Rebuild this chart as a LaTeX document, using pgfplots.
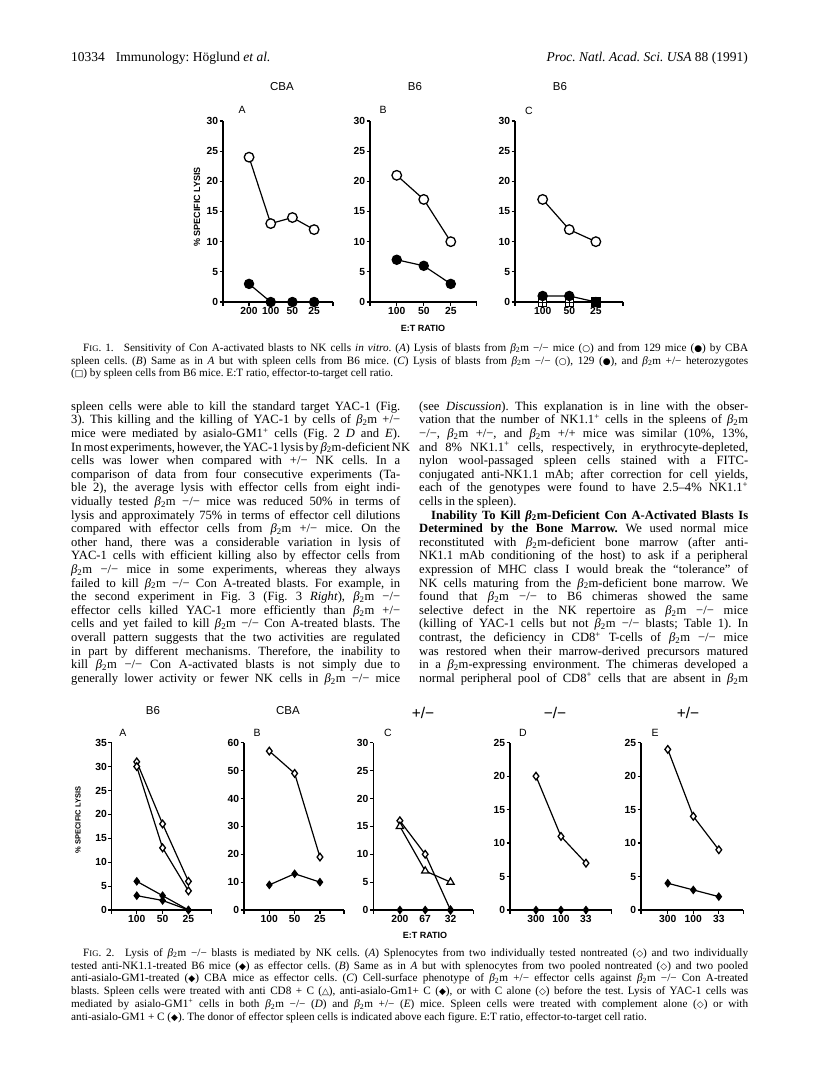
\documentclass[border=0pt]{standalone}
\usepackage{fontspec}
\setmainfont{Liberation Serif}
\setsansfont{Liberation Sans}
\newfontfamily\sym[Scale=0.8]{DejaVu Sans}
\usepackage{pgfplots}
\pgfplotsset{compat=1.18}
\frenchspacing

\newcommand{\btwo}{\textit{β}\textsubscript{2}m}
\newcommand{\bodyf}{\fontsize{12.6}{13.6}\selectfont\frenchspacing}
\newcommand{\capf}{\fontsize{11.2}{12.5}\selectfont\frenchspacing}
\newcommand{\smc}[1]{{\fontsize{8.6}{9}\selectfont #1}}
\def\bt{408}\def\bs{13.6}
\def\ct{349}\def\cs{12.8}
\def\dt{954}
\newcommand{\TL}[3]{\node[anchor=mid west,inner sep=0pt,font=\bodyf] at ({#1pt},{-\bt pt-\bs pt*#2}) {\makebox[329pt][s]{#3}};}
\newcommand{\TF}[3]{\node[anchor=mid west,inner sep=0pt,font=\bodyf] at ({#1pt},{-\bt pt-\bs pt*#2}) {#3};}
\newcommand{\CL}[3]{\node[anchor=mid west,inner sep=0pt,font=\capf] at ({71pt},{-#1pt-\cs pt*#2}) {\makebox[677pt][s]{#3}};}
\newcommand{\CF}[3]{\node[anchor=mid west,inner sep=0pt,font=\capf] at ({71pt},{-#1pt-\cs pt*#2}) {#3};}

\pgfdeclareplotmark{sqplus}{%
  \pgfpathrectangle{\pgfpoint{-\pgfplotmarksize}{-\pgfplotmarksize}}{\pgfpoint{2\pgfplotmarksize}{2\pgfplotmarksize}}%
  \pgfusepathqfillstroke
  \pgfpathmoveto{\pgfpoint{-\pgfplotmarksize}{0pt}}\pgfpathlineto{\pgfpoint{\pgfplotmarksize}{0pt}}%
  \pgfpathmoveto{\pgfpoint{0pt}{-\pgfplotmarksize}}\pgfpathlineto{\pgfpoint{0pt}{\pgfplotmarksize}}%
  \pgfusepathqstroke}

\pgfplotsset{
  pnl/.style={
    scale only axis, clip=false, anchor=south west,
    axis x line*=bottom, axis y line*=left,
    axis line style={line width=1.3pt,-},
    every tick/.style={black, line width=1.2pt},
    tick align=outside, major tick length=3.5pt,
    yticklabel style={font=\sffamily\bfseries\fontsize{10.3}{11}\selectfont, inner sep=1.2pt},
    xticklabel style={font=\sffamily\bfseries\fontsize{10.3}{11}\selectfont, inner sep=1.2pt},
    /pgf/number format/assume math mode=true,
    ymin=0, xtick={0,1,2,3},
    extra x tick labels={,},
    every axis plot/.append style={line width=1.2pt, black},
  },
  oc/.style={mark=*, mark size=4.8pt, mark options={fill=white, line width=1.3pt}},
  fc/.style={mark=*, mark size=4.6pt, mark options={fill=black}},
  od/.style={mark=diamond*, mark size=3.8pt, mark options={fill=white, line width=1.3pt}},
  fd/.style={mark=diamond*, mark size=3.5pt, mark options={fill=black}},
  ot/.style={mark=triangle*, mark size=4.2pt, mark options={fill=white, line width=1.2pt}},
}

\begin{document}
\begin{tikzpicture}
\path[use as bounding box] (0,0) rectangle (816pt,-1079pt);
\fill[white] (0,0) rectangle (816pt,-1079pt);

% header
\node[anchor=mid west,inner sep=0pt,font=\fontsize{13.5}{15}\selectfont] at (71pt,-59pt) {10334\hspace{11pt}Immunology: Höglund \textit{et al.}};
\node[anchor=mid east,inner sep=0pt,font=\fontsize{13.5}{15}\selectfont] at (748pt,-59pt) {\textit{Proc. Natl. Acad. Sci. USA} 88 (1991)};

% ---------- FIG 1 ----------
\begin{axis}[pnl, at={(223pt,-302pt)}, width=110pt, height=181pt,
  xmin=-1.2, xmax=3.87, ymax=30, ytick={0,5,...,30},
  xticklabels={200,100,50,25}, extra x ticks={-1.2,3.87}]
\addplot[oc] coordinates {(0,24)(1,13)(2,14)(3,12)};
\addplot[fc] coordinates {(0,3)(1,0)(2,0)(3,0)};
\end{axis}
\begin{axis}[pnl, at={(370pt,-302pt)}, width=106.7pt, height=181pt,
  xmin=-0.99, xmax=2.96, ymax=30, ytick={0,5,...,30}, xtick={0,1,2},
  xticklabels={100,50,25}, extra x ticks={-0.99,2.96}]
\addplot[oc] coordinates {(0,21)(1,17)(2,10)};
\addplot[fc] coordinates {(0,7)(1,6)(2,3)};
\end{axis}
\begin{axis}[pnl, at={(515pt,-302pt)}, width=108pt, height=181pt,
  xmin=-1.04, xmax=3.02, ymax=30, ytick={0,5,...,30}, xtick={0,1,2},
  xticklabels={100,50,25}, extra x ticks={-1.04,3.02}]
\addplot[oc] coordinates {(0,17)(1,12)(2,10)};
\addplot[mark=sqplus, mark size=4pt, mark options={fill=white, line width=1pt}] coordinates {(0,0)(1,0)(2,0)};
\addplot[only marks, mark=square*, mark size=4.2pt, mark options={fill=black}] coordinates {(2,0)};
\addplot[fc] coordinates {(0,1)(1,1)(2,0)};
\end{axis}

\node[font=\sffamily\fontsize{11.5}{12}\selectfont] at (282pt,-87pt) {CBA};
\node[font=\sffamily\fontsize{11.5}{12}\selectfont] at (415pt,-87pt) {B6};
\node[font=\sffamily\fontsize{11.5}{12}\selectfont] at (560pt,-87pt) {B6};
\node[font=\sffamily\fontsize{10.5}{12}\selectfont] at (242pt,-110pt) {A};
\node[font=\sffamily\fontsize{10.5}{12}\selectfont] at (383pt,-110pt) {B};
\node[font=\sffamily\fontsize{10.5}{12}\selectfont] at (529pt,-111pt) {C};
\node[rotate=90,font=\sffamily\bfseries\fontsize{9}{10}\selectfont] at (197pt,-207pt) {\% SPECIFIC LYSIS};
\node[font=\sffamily\bfseries\fontsize{9}{10}\selectfont] at (423pt,-328pt) {E:T RATIO};

% caption fig 1
\CL{\ct}{0}{\hspace*{12pt}F\smc{IG}. 1.\hspace{6pt} Sensitivity of Con A-activated blasts to NK cells \textit{in vitro}. (\textit{A}) Lysis of blasts from \btwo{} −/− mice ({\sym ○}) and from 129 mice ({\sym ●}) by CBA}
\CL{\ct}{1}{spleen cells. (\textit{B}) Same as in \textit{A} but with spleen cells from B6 mice. (\textit{C}) Lysis of blasts from \btwo{} −/− ({\sym ○}), 129 ({\sym ●}), and \btwo{} +/− heterozygotes}
\CF{\ct}{2}{({\sym □}) by spleen cells from B6 mice. E:T ratio, effector-to-target cell ratio.}

% body left
\TL{71}{0}{spleen cells were able to kill the standard target YAC-1 (Fig.}
\TL{71}{1}{3). This killing and the killing of YAC-1 by cells of \btwo{} +/−}
\TL{71}{2}{mice were mediated by asialo-GM1\textsuperscript{+} cells (Fig. 2 \textit{D} and \textit{E}).}
\TL{71}{3}{In most experiments, however, the YAC-1 lysis by \btwo-deficient NK}
\TL{71}{4}{cells was lower when compared with +/− NK cells. In a}
\TL{71}{5}{comparison of data from four consecutive experiments (Ta-}
\TL{71}{6}{ble 2), the average lysis with effector cells from eight indi-}
\TL{71}{7}{vidually tested \btwo{} −/− mice was reduced 50\% in terms of}
\TL{71}{8}{lysis and approximately 75\% in terms of effector cell dilutions}
\TL{71}{9}{compared with effector cells from \btwo{} +/− mice. On the}
\TL{71}{10}{other hand, there was a considerable variation in lysis of}
\TL{71}{11}{YAC-1 cells with efficient killing also by effector cells from}
\TL{71}{12}{\btwo{} −/− mice in some experiments, whereas they always}
\TL{71}{13}{failed to kill \btwo{} −/− Con A-treated blasts. For example, in}
\TL{71}{14}{the second experiment in Fig. 3 (Fig. 3 \textit{Right}), \btwo{} −/−}
\TL{71}{15}{effector cells killed YAC-1 more efficiently than \btwo{} +/−}
\TL{71}{16}{cells and yet failed to kill \btwo{} −/− Con A-treated blasts. The}
\TL{71}{17}{overall pattern suggests that the two activities are regulated}
\TL{71}{18}{in part by different mechanisms. Therefore, the inability to}
\TL{71}{19}{kill \btwo{} −/− Con A-activated blasts is not simply due to}
\TL{71}{20}{generally lower activity or fewer NK cells in \btwo{} −/− mice}

% body right
\TL{419}{0}{(see \textit{Discussion}). This explanation is in line with the obser-}
\TL{419}{1}{vation that the number of NK1.1\textsuperscript{+} cells in the spleens of \btwo}
\TL{419}{2}{−/−, \btwo{} +/−, and \btwo{} +/+ mice was similar (10\%, 13\%,}
\TL{419}{3}{and 8\% NK1.1\textsuperscript{+} cells, respectively, in erythrocyte-depleted,}
\TL{419}{4}{nylon wool-passaged spleen cells stained with a FITC-}
\TL{419}{5}{conjugated anti-NK1.1 mAb; after correction for cell yields,}
\TL{419}{6}{each of the genotypes were found to have 2.5–4\% NK1.1\textsuperscript{+}}
\TF{419}{7}{cells in the spleen).}
\TL{419}{8}{\hspace*{12pt}\textbf{Inability To Kill \btwo-Deficient Con A-Activated Blasts Is}}
\TL{419}{9}{\textbf{Determined by the Bone Marrow.} We used normal mice}
\TL{419}{10}{reconstituted with \btwo-deficient bone marrow (after anti-}
\TL{419}{11}{NK1.1 mAb conditioning of the host) to ask if a peripheral}
\TL{419}{12}{expression of MHC class I would break the ``tolerance'' of}
\TL{419}{13}{NK cells maturing from the \btwo-deficient bone marrow. We}
\TL{419}{14}{found that \btwo{} −/− to B6 chimeras showed the same}
\TL{419}{15}{selective defect in the NK repertoire as \btwo{} −/− mice}
\TL{419}{16}{(killing of YAC-1 cells but not \btwo{} −/− blasts; Table 1). In}
\TL{419}{17}{contrast, the deficiency in CD8\textsuperscript{+} T-cells of \btwo{} −/− mice}
\TL{419}{18}{was restored when their marrow-derived precursors matured}
\TL{419}{19}{in a \btwo-expressing environment. The chimeras developed a}
\TL{419}{20}{normal peripheral pool of CD8\textsuperscript{+} cells that are absent in \btwo}

% ---------- FIG 2 ----------
\begin{axis}[pnl, at={(111.7pt,-910pt)}, width=100pt, height=167.3pt,
  xmin=-0.97, xmax=2.9, ymax=35, ytick={0,5,...,35}, xtick={0,1,2},
  xticklabels={100,50,25}, extra x ticks={-0.97,2.9}]
\addplot[od] coordinates {(0,31)(1,18)(2,6)};
\addplot[od] coordinates {(0,30)(1,13)(2,4)};
\addplot[fd] coordinates {(0,6)(1,3)(2,0)};
\addplot[fd] coordinates {(0,3)(1,2)(2,0)};
\end{axis}
\begin{axis}[pnl, at={(244pt,-910pt)}, width=100pt, height=167.3pt,
  xmin=-1.0, xmax=2.95, ymax=60, ytick={0,10,...,60}, xtick={0,1,2},
  xticklabels={100,50,25}, extra x ticks={-1.0,2.95}]
\addplot[od] coordinates {(0,57)(1,49)(2,19)};
\addplot[fd] coordinates {(0,9)(1,13)(2,10)};
\end{axis}
\begin{axis}[pnl, at={(373.3pt,-910pt)}, width=100pt, height=167.3pt,
  xmin=-1.05, xmax=2.9, ymax=30, ytick={0,5,...,30}, xtick={0,1,2},
  xticklabels={200,67,32}, extra x ticks={-1.05,2.9}]
\addplot[od] coordinates {(0,16)(1,10)(2,0)};
\addplot[ot] coordinates {(0,15)(1,7)(2,5)};
\addplot[fd] coordinates {(0,0)(1,0)(2,0)};
\end{axis}
\begin{axis}[pnl, at={(510pt,-910pt)}, width=101.7pt, height=167.3pt,
  xmin=-1.04, xmax=3.03, ymax=25, ytick={0,5,...,25}, xtick={0,1,2},
  xticklabels={300,100,33}, extra x ticks={-1.04,3.03}]
\addplot[od] coordinates {(0,20)(1,11)(2,7)};
\addplot[fd] coordinates {(0,0)(1,0)(2,0)};
\end{axis}
\begin{axis}[pnl, at={(641pt,-910pt)}, width=102.3pt, height=167.3pt,
  xmin=-1.05, xmax=2.96, ymax=25, ytick={0,5,...,25}, xtick={0,1,2},
  xticklabels={300,100,33}, extra x ticks={-1.05,2.96}]
\addplot[od] coordinates {(0,24)(1,14)(2,9)};
\addplot[fd] coordinates {(0,4)(1,3)(2,2)};
\end{axis}

\node[font=\sffamily\fontsize{11.5}{12}\selectfont] at (153pt,-711pt) {B6};
\node[font=\sffamily\fontsize{11.5}{12}\selectfont] at (288pt,-711pt) {CBA};
\node[font=\sffamily\fontsize{15.5}{16}\selectfont] at (423pt,-713pt) {+/−};
\node[font=\sffamily\fontsize{15.5}{16}\selectfont] at (555pt,-713pt) {−/−};
\node[font=\sffamily\fontsize{15.5}{16}\selectfont] at (688pt,-713pt) {+/−};
\node[font=\sffamily\fontsize{10.5}{12}\selectfont] at (123pt,-733pt) {A};
\node[font=\sffamily\fontsize{10.5}{12}\selectfont] at (257pt,-733pt) {B};
\node[font=\sffamily\fontsize{10.5}{12}\selectfont] at (388pt,-733pt) {C};
\node[font=\sffamily\fontsize{10.5}{12}\selectfont] at (523pt,-733pt) {D};
\node[font=\sffamily\fontsize{10.5}{12}\selectfont] at (655pt,-733pt) {E};
\node[rotate=90,font=\sffamily\bfseries\fontsize{7.5}{8}\selectfont] at (78pt,-820pt) {\% SPECIFIC LYSIS};
\node[font=\sffamily\bfseries\fontsize{9}{10}\selectfont] at (425pt,-935pt) {E:T RATIO};

% caption fig 2
\CL{\dt}{0}{\hspace*{12pt}F\smc{IG}. 2.\hspace{6pt} Lysis of \btwo{} −/− blasts is mediated by NK cells. (\textit{A}) Splenocytes from two individually tested nontreated ({\sym ◇}) and two individually}
\CL{\dt}{1}{tested anti-NK1.1-treated B6 mice ({\sym ◆}) as effector cells. (\textit{B}) Same as in \textit{A} but with splenocytes from two pooled nontreated ({\sym ◇}) and two pooled}
\CL{\dt}{2}{anti-asialo-GM1-treated ({\sym ◆}) CBA mice as effector cells. (\textit{C}) Cell-surface phenotype of \btwo{} +/− effector cells against \btwo{} −/− Con A-treated}
\CL{\dt}{3}{blasts. Spleen cells were treated with anti CD8 + C ({\sym △}), anti-asialo-Gm1+ C ({\sym ◆}), or with C alone ({\sym ◇}) before the test. Lysis of YAC-1 cells was}
\CL{\dt}{4}{mediated by asialo-GM1\textsuperscript{+} cells in both \btwo{} −/− (\textit{D}) and \btwo{} +/− (\textit{E}) mice. Spleen cells were treated with complement alone ({\sym ◇}) or with}
\CF{\dt}{5}{anti-asialo-GM1 + C ({\sym ◆}). The donor of effector spleen cells is indicated above each figure. E:T ratio, effector-to-target cell ratio.}
\end{tikzpicture}
\end{document}
